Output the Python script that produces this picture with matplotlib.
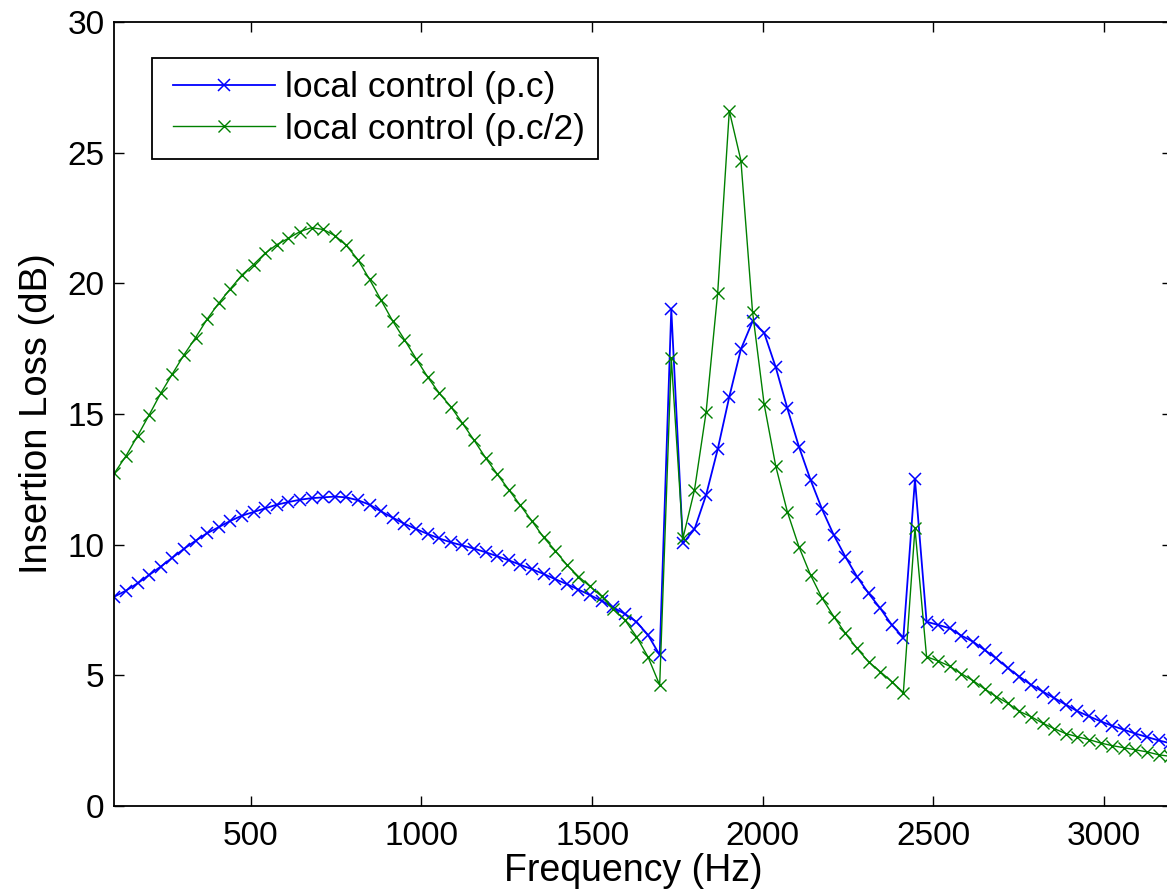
import matplotlib
matplotlib.use("Agg")
import matplotlib.pyplot as plt
from matplotlib.legend_handler import HandlerLine2D

plt.rcParams['font.family'] = ['Liberation Sans', 'DejaVu Sans']

freq_hz = [100, 134, 168, 202, 236, 270, 304, 338, 372, 406,
           440, 474, 508, 542, 576, 610, 644, 678, 712, 746,
           780, 814, 848, 882, 916, 950, 984, 1018, 1052, 1086,
           1120, 1154, 1188, 1222, 1256, 1290, 1324, 1358, 1392, 1426,
           1460, 1494, 1528, 1562, 1596, 1630, 1664, 1698, 1732, 1766,
           1800, 1834, 1868, 1902, 1936, 1970, 2004, 2038, 2072, 2106,
           2140, 2174, 2208, 2242, 2276, 2310, 2344, 2378, 2412, 2446,
           2480, 2514, 2548, 2582, 2616, 2650, 2684, 2718, 2752, 2786,
           2820, 2854, 2888, 2922, 2956, 2990, 3024, 3058, 3092, 3126,
           3160, 3194]

il_rho_c = [8.01, 8.24, 8.52, 8.84, 9.16, 9.50, 9.84, 10.15, 10.44, 10.67,
            10.91, 11.11, 11.25, 11.39, 11.53, 11.63, 11.72, 11.78, 11.81, 11.84,
            11.81, 11.70, 11.53, 11.27, 11.03, 10.80, 10.60, 10.41, 10.24, 10.09,
            9.97, 9.85, 9.71, 9.56, 9.40, 9.23, 9.06, 8.88, 8.68, 8.49,
            8.28, 8.07, 7.85, 7.60, 7.35, 7.05, 6.54, 5.78, 19.01, 10.05,
            10.59, 11.90, 13.65, 15.66, 17.48, 18.54, 18.11, 16.79, 15.22, 13.75,
            12.48, 11.35, 10.37, 9.54, 8.78, 8.14, 7.57, 6.93, 6.44, 12.50,
            7.05, 6.93, 6.80, 6.52, 6.29, 5.97, 5.65, 5.28, 4.95, 4.64,
            4.38, 4.13, 3.88, 3.63, 3.43, 3.24, 3.07, 2.92, 2.77, 2.64,
            2.51, 2.40]

il_rho_c_half = [12.73, 13.39, 14.16, 14.96, 15.79, 16.53, 17.26, 17.92, 18.63, 19.24,
                 19.79, 20.32, 20.72, 21.15, 21.48, 21.72, 21.98, 22.13, 22.06, 21.83,
                 21.45, 20.90, 20.15, 19.35, 18.55, 17.85, 17.12, 16.42, 15.80, 15.28,
                 14.65, 14.00, 13.32, 12.70, 12.10, 11.50, 10.90, 10.28, 9.77, 9.23,
                 8.78, 8.40, 8.02, 7.53, 7.12, 6.48, 5.70, 4.63, 17.13, 10.24,
                 12.09, 15.07, 19.64, 26.60, 24.70, 18.92, 15.38, 13.01, 11.26, 9.92,
                 8.84, 7.95, 7.25, 6.61, 6.03, 5.52, 5.14, 4.76, 4.34, 10.63,
                 5.71, 5.55, 5.35, 5.06, 4.80, 4.48, 4.19, 3.93, 3.62, 3.42,
                 3.17, 2.96, 2.77, 2.65, 2.54, 2.41, 2.31, 2.23, 2.15, 2.07,
                 1.96, 1.90]

series_labels = ['local control (\u03c1.c)', 'local control (\u03c1.c/2)']
x_ticks = [500, 1000, 1500, 2000, 2500, 3000]
y_ticks = [0, 5, 10, 15, 20, 25, 30]

W, H = 1167, 892
fig = plt.figure(figsize=(W / 100, H / 100), dpi=100)
ax = fig.add_axes([114.3 / W, 86 / H, 1058 / W, 784 / H])

ax.plot(freq_hz, il_rho_c, color='#0000ff', lw=1.3, marker='x',
        markersize=8, markeredgewidth=1.1, label=series_labels[0])
ax.plot(freq_hz, il_rho_c_half, color='#008000', lw=1.0, marker='x',
        markersize=8, markeredgewidth=1.0, label=series_labels[1])

ax.set_xlim(100, 3200)
ax.set_ylim(0, 30)
ax.set_xticks(x_ticks)
ax.set_yticks(y_ticks)
ax.tick_params(direction='in', length=7.5, width=1.0, top=True, right=True,
               labelsize=24, colors='black')
ax.tick_params(axis='x', pad=10.8)
ax.tick_params(axis='y', pad=7)
for s in ax.spines.values():
    s.set_linewidth(1.3)

ax.set_xlabel('Frequency (Hz)', fontsize=27)
ax.xaxis.set_label_coords((633 - 114.3) / 1058, -(853 - 806) / 784)
ax.set_ylabel('Insertion Loss (dB)', fontsize=27.5, labelpad=9)

shift = HandlerLine2D(xpad=0.22)
leg = ax.legend(loc='upper left', bbox_to_anchor=(152 / W, 1 - 58 / H),
                bbox_transform=fig.transFigure, fontsize=25.5, frameon=True,
                fancybox=False, shadow=False, handlelength=3.1,
                handletextpad=0.29, borderpad=0.37, labelspacing=0.24,
                borderaxespad=0,
                handler_map={ax.lines[0]: shift, ax.lines[1]: shift})
leg.get_frame().set_edgecolor('black')
leg.get_frame().set_linewidth(1.3)
leg.get_frame().set_alpha(1)

fig.savefig('out.png', dpi=100)
